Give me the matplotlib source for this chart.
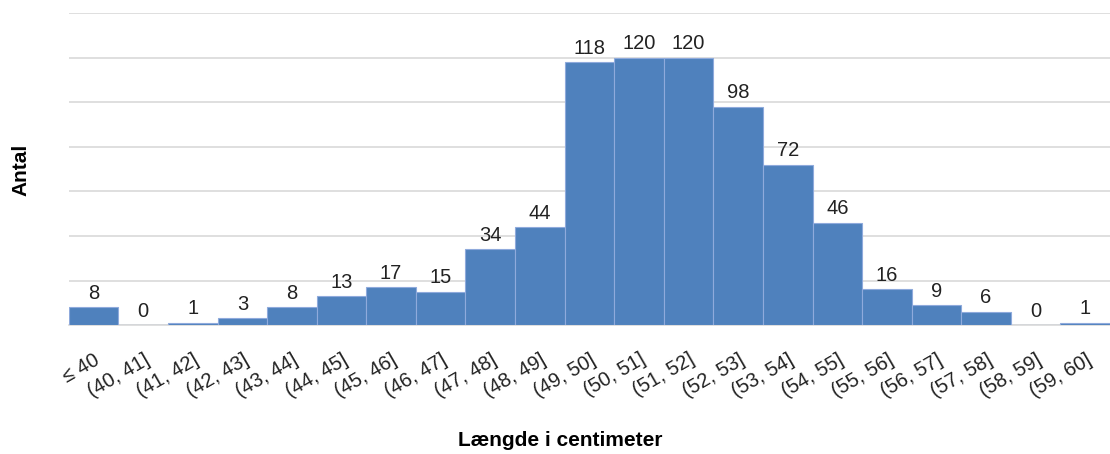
import matplotlib.pyplot as plt
import numpy as np

plt.rcParams['font.family'] = ['Liberation Sans', 'DejaVu Sans']

labels = ['≤ 40', '(40, 41]', '(41, 42]', '(42, 43]', '(43, 44]', '(44, 45]',
          '(45, 46]', '(46, 47]', '(47, 48]', '(48, 49]', '(49, 50]', '(50, 51]',
          '(51, 52]', '(52, 53]', '(53, 54]', '(54, 55]', '(55, 56]', '(56, 57]',
          '(57, 58]', '(58, 59]', '(59, 60]']
counts = [8, 0, 1, 3, 8, 13, 17, 15, 34, 44, 118, 120, 120, 98, 72, 46, 16, 9, 6, 0, 1]

fig = plt.figure(figsize=(11.1, 4.54), dpi=100)
ax = fig.add_axes([0.062, 0.284, 0.938, 0.687])

x = np.arange(len(counts))
bars = ax.bar(x, counts, width=1.0, color='#4F81BD', edgecolor='#8FAADC',
              linewidth=0.8, zorder=3)

for xi, c in zip(x, counts):
    ax.text(xi, c + 2, str(c), ha='center', va='bottom', fontsize=14.5,
            color='#222222')

ax.set_xlim(-0.5, len(counts) - 0.5)
ax.set_ylim(0, 140)
ax.set_yticks(np.arange(0, 141, 20))
ax.set_yticklabels([])
ax.tick_params(axis='y', length=0)
ax.grid(axis='y', color='#D9D9D9', linewidth=1.2, zorder=0)

ax.set_xticks(x)
ax.set_xticklabels(labels, rotation=30, ha='right', rotation_mode='anchor',
                   fontsize=14.5, color='#222222')
ax.tick_params(axis='x', length=0, pad=18)

for s in ['top', 'right', 'left']:
    ax.spines[s].set_visible(False)
ax.spines['bottom'].set_color('#D9D9D9')
ax.spines['bottom'].set_linewidth(1.2)

fig.text(0.019, 0.625, 'Antal', rotation=90, ha='center', va='center',
         fontsize=15, fontweight='bold')
fig.text(0.505, 0.03, 'Længde i centimeter', ha='center', va='center',
         fontsize=15, fontweight='bold')

fig.savefig('out.png', dpi=100)
